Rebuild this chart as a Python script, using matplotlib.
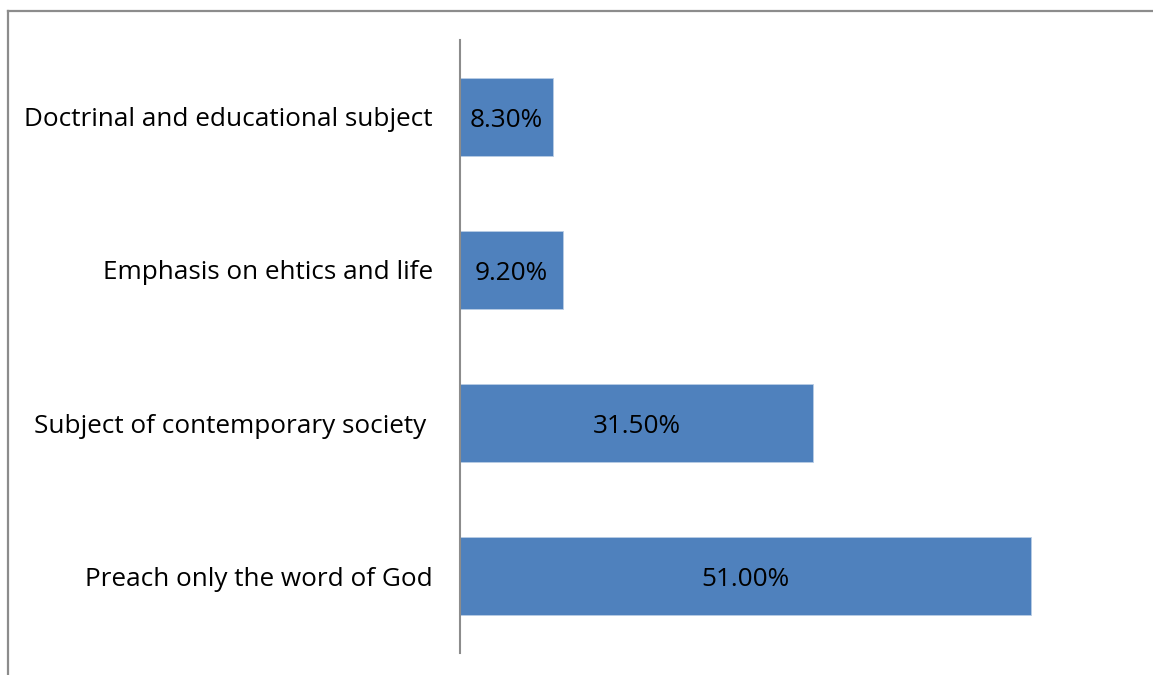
import matplotlib
matplotlib.use("Agg")
import matplotlib.pyplot as plt
from matplotlib.lines import Line2D

categories = [
    "Preach only the word of God",
    "Subject of contemporary society ",
    "Emphasis on ehtics and life",
    "Doctrinal and educational subject",
]
values = [51.0, 31.5, 9.2, 8.3]
value_labels = ["51.00%", "31.50%", "9.20%", "8.30%"]

plt.rcParams["font.family"] = ["Open Sans", "DejaVu Sans"]

W, H = 1153, 675
fig = plt.figure(figsize=(W / 100, H / 100), dpi=100)
ax = fig.add_axes([460 / W, 1 - 653 / H, (1132 - 460) / W, (653 - 40) / H])

pos = list(range(len(categories)))
ax.barh(pos, values, height=0.51, color="#4F81BD", edgecolor="#B9CDE5", linewidth=0.6)
ax.set_xlim(0, 60)
ax.set_ylim(-0.5, len(categories) - 0.5)
ax.set_yticks(pos)
ax.set_yticklabels(categories, fontsize=18.8, color="#000000")
ax.tick_params(axis="y", length=0, pad=19.5)
ax.set_xticks([])
for s in ["top", "right", "bottom"]:
    ax.spines[s].set_visible(False)
ax.spines["left"].set_color("#8C8C8C")
ax.spines["left"].set_linewidth(1.5)

for p, v, lab in zip(pos, values, value_labels):
    ax.annotate(lab, (v / 2, p), xytext=(0, -2.5), textcoords="offset points",
                ha="center", va="center", fontsize=18.8, color="#000000")

# outer frame lines along top and left edges
fig.add_artist(Line2D([7.5 / W, 1], [1 - 10.5 / H, 1 - 10.5 / H], transform=fig.transFigure,
                      color="#8C8C8C", linewidth=1.6))
fig.add_artist(Line2D([7.5 / W, 7.5 / W], [1 - 10.5 / H, 0], transform=fig.transFigure,
                      color="#8C8C8C", linewidth=1.6))

fig.savefig("out.png", dpi=100, facecolor="white")
